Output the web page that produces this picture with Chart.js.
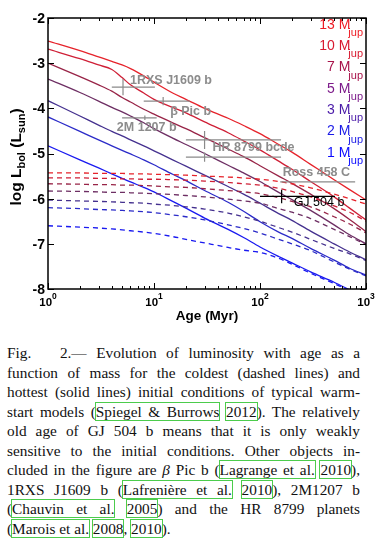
<!DOCTYPE html>
<html>
<head>
<meta charset="utf-8">
<script src="https://cdn.jsdelivr.net/npm/chart.js@4.4.0/dist/chart.umd.min.js"></script>
<style>
  html, body { margin: 0; padding: 0; background: #fff; width: 385px; height: 546px; overflow: hidden; }
  #wrap { position: absolute; left: 0; top: 0; width: 385px; height: 330px; }
  #cap { position: absolute; left: 7px; top: 343px; width: 353px; font-family: "Liberation Serif", serif;
         font-size: 15.3px; line-height: 19.5px; color: #111; }
  #cap div { text-align: justify; text-align-last: justify; height: 19.5px; white-space: nowrap; }
  #cap div.last { text-align-last: left; }
  .l { outline: 1px solid #4ccc4c; }
</style>
</head>
<body>
<div id="wrap"><canvas id="c" width="385" height="330"></canvas></div>
<div id="cap">
  <div>Fig.&nbsp;&nbsp; 2.— Evolution of luminosity with age as a</div>
  <div>function of mass for the coldest (dashed lines) and</div>
  <div>hottest (solid lines) initial conditions of typical warm-</div>
  <div>start models (<span class="l">Spiegel &amp; Burrows</span> <span class="l">2012</span>). The relatively</div>
  <div>old age of GJ 504 b means that it is only weakly</div>
  <div>sensitive to the initial conditions. Other objects in-</div>
  <div>cluded in the figure are <i>β</i> Pic b (<span class="l">Lagrange et al.</span> <span class="l">2010</span>),</div>
  <div>1RXS J1609 b (<span class="l">Lafrenière et al.</span> <span class="l">2010</span>), 2M1207 b</div>
  <div>(<span class="l">Chauvin et al.</span> <span class="l">2005</span>) and the HR 8799 planets</div>
  <div class="last">(<span class="l">Marois et al.</span> <span class="l">2008</span>, <span class="l">2010</span>).</div>
</div>
<script>
// ages in Myr
const ages = [1, 2, 3, 4, 5, 6, 8, 10, 15, 20, 30, 50, 70, 100, 150, 200, 300, 500, 700, 1000];
const masses = ['13', '10', '7', '5', '3', '2', '1'];

// hottest initial conditions (solid), log Lbol/Lsun
const hot13 = [-2.51, -2.72, -2.86, -2.96, -3.04, -3.12, -3.28, -3.42, -3.66, -3.80, -4.00, -4.22, -4.38, -4.56, -4.80, -4.97, -5.24, -5.58, -5.80, -6.03];
const hot10 = [-2.69, -2.90, -3.04, -3.14, -3.32, -3.48, -3.66, -3.80, -3.98, -4.10, -4.30, -4.54, -4.72, -4.92, -5.17, -5.35, -5.62, -5.96, -6.21, -6.47];
const hot7  = [-3.00, -3.30, -3.48, -3.62, -3.76, -3.86, -4.02, -4.13, -4.32, -4.45, -4.65, -4.90, -5.07, -5.27, -5.50, -5.66, -5.90, -6.22, -6.46, -6.73];
const hot5  = [-3.35, -3.65, -3.84, -3.98, -4.08, -4.17, -4.32, -4.45, -4.66, -4.80, -5.00, -5.26, -5.43, -5.62, -5.86, -6.02, -6.26, -6.58, -6.80, -7.00];
const hot3  = [-3.83, -4.17, -4.37, -4.51, -4.61, -4.70, -4.83, -4.94, -5.14, -5.28, -5.48, -5.73, -5.90, -6.10, -6.33, -6.48, -6.72, -7.00, -7.18, -7.35];
const hot2  = [-4.19, -4.51, -4.70, -4.83, -4.93, -5.01, -5.14, -5.25, -5.46, -5.60, -5.82, -6.08, -6.28, -6.51, -6.74, -6.88, -7.10, -7.36, -7.54, -7.69];
const hot1  = [-4.83, -5.14, -5.32, -5.45, -5.55, -5.63, -5.75, -5.85, -6.06, -6.21, -6.43, -6.68, -6.86, -7.07, -7.28, -7.42, -7.62, -7.85, -8.02, -8.20];

// coldest initial conditions (dashed)
const cold13 = [-5.43, -5.43, -5.44, -5.44, -5.44, -5.45, -5.45, -5.46, -5.47, -5.48, -5.50, -5.52, -5.54, -5.57, -5.62, -5.67, -5.76, -5.90, -6.00, -6.12];
const cold10 = [-5.54, -5.54, -5.55, -5.55, -5.56, -5.56, -5.57, -5.57, -5.58, -5.59, -5.61, -5.64, -5.67, -5.70, -5.77, -5.84, -5.96, -6.16, -6.30, -6.50];
const cold7  = [-5.67, -5.68, -5.69, -5.69, -5.70, -5.70, -5.71, -5.72, -5.74, -5.75, -5.78, -5.82, -5.85, -5.89, -5.98, -6.06, -6.18, -6.40, -6.56, -6.76];
const cold5  = [-5.83, -5.84, -5.85, -5.86, -5.86, -5.87, -5.88, -5.89, -5.91, -5.93, -5.96, -6.01, -6.05, -6.10, -6.22, -6.30, -6.44, -6.68, -6.84, -7.02];
const cold3  = [-6.03, -6.05, -6.06, -6.07, -6.08, -6.09, -6.10, -6.12, -6.15, -6.18, -6.23, -6.32, -6.40, -6.50, -6.64, -6.74, -6.90, -7.10, -7.22, -7.37];
const cold2  = [-6.20, -6.22, -6.24, -6.25, -6.26, -6.27, -6.29, -6.31, -6.36, -6.40, -6.47, -6.58, -6.66, -6.76, -6.90, -7.00, -7.15, -7.40, -7.56, -7.71];
const cold1  = [-6.60, -6.63, -6.65, -6.67, -6.69, -6.71, -6.74, -6.77, -6.84, -6.90, -6.98, -7.08, -7.14, -7.19, -7.32, -7.45, -7.65, -7.88, -8.04, -8.22];

const hot = [hot13, hot10, hot7, hot5, hot3, hot2, hot1];
const cold = [cold13, cold10, cold7, cold5, cold3, cold2, cold1];

// known objects
const objAge   = [5.1, 12.2, 8.2, 30, 30, 350, 160];
const objAgeLo = [4.0, 8.0, 5.0, 20, 20, 155, 100];
const objAgeHi = [10.2, 21.8, 10.6, 158, 158, 790, 510];
const objL     = [-3.53, -3.84, -4.21, -4.70, -5.08, -5.63, -5.95];
const objLErr  = [0.18, 0.09, 0.05, 0.20, 0.10, 0, 0.15];

const labelText = ['1RXS J1609 b', 'β Pic b', '2M 1207 b', 'HR 8799 bcde', 'Ross 458 C', 'GJ 504 b'];
const labelObj  = [0, 1, 2, 3, 5, 6];

const yTicks = [-2, -3, -4, -5, -6, -7, -8];
const xTicks = [1, 10, 100, 1000];

// styles
const lineCol  = ['#e6232b', '#cf1f36', '#982447', '#6d2e63', '#45318f', '#2b2bc8', '#1a1af0'];
const labelCol = ['#ee1c25', '#d8192f', '#a8124a', '#7d1b8a', '#4a1aa8', '#1a1ae6', '#0b0bff'];
const labelDx = [7, 7, -28, 8, -35, 12];
const labelDy = [-7, 10, 10, 8, -9, 6];

const datasets = [];
masses.forEach((m, i) => {
  datasets.push({
    label: m + ' hot',
    data: ages.map((a, k) => ({ x: a, y: hot[i][k] })),
    borderColor: lineCol[i], borderWidth: 1.3, pointRadius: 0, cubicInterpolationMode: 'monotone'
  });
  datasets.push({
    label: m + ' cold',
    data: ages.map((a, k) => ({ x: a, y: cold[i][k] })),
    borderColor: lineCol[i], borderWidth: 1.3, borderDash: [5, 4], pointRadius: 0, cubicInterpolationMode: 'monotone'
  });
});

const deco = {
  id: 'deco',
  afterDatasetsDraw(chart) {
    const { ctx, chartArea: a, scales: { x, y } } = chart;
    ctx.save();
    ctx.lineWidth = 1.2;
    objAge.forEach((t, i) => {
      ctx.strokeStyle = i === 6 ? '#000' : '#8a8a8a';
      const py = y.getPixelForValue(objL[i]);
      ctx.beginPath();
      ctx.moveTo(x.getPixelForValue(objAgeLo[i]), py);
      ctx.lineTo(x.getPixelForValue(objAgeHi[i]), py);
      if (objLErr[i] > 0) {
        const px = x.getPixelForValue(t);
        ctx.moveTo(px, y.getPixelForValue(objL[i] + objLErr[i]));
        ctx.lineTo(px, y.getPixelForValue(objL[i] - objLErr[i]));
      }
      ctx.stroke();
    });
    ctx.textBaseline = 'middle';
    ctx.textAlign = 'left';
    labelText.forEach((s, j) => {
      const o = labelObj[j];
      ctx.fillStyle = o === 6 ? '#000' : '#8c8c8c';
      ctx.font = (o === 6 ? '' : 'bold ') + '12.5px "Liberation Sans", Arial, sans-serif';
      ctx.fillText(s, x.getPixelForValue(objAge[o]) + labelDx[j], y.getPixelForValue(objL[o]) + labelDy[j]);
    });
    ctx.restore();
  },
  afterDraw(chart) {
    const { ctx, chartArea: a, scales: { x, y } } = chart;
    ctx.save();
    ctx.strokeStyle = '#000';
    ctx.lineWidth = 1.5;
    ctx.strokeRect(a.left, a.top, a.right - a.left, a.bottom - a.top);
    // ticks
    ctx.lineWidth = 1;
    ctx.beginPath();
    for (let d = 1; d < 1000; d *= 10) {
      for (let k = 1; k <= 10; k++) {
        const px = Math.round(x.getPixelForValue(d * k)) + 0.5;
        const len = (k === 1 || k === 10) ? 6 : 3;
        ctx.moveTo(px, a.bottom); ctx.lineTo(px, a.bottom - len);
        ctx.moveTo(px, a.top); ctx.lineTo(px, a.top + len);
      }
    }
    yTicks.forEach(v => {
      const py = Math.round(y.getPixelForValue(v)) + 0.5;
      ctx.moveTo(a.left, py); ctx.lineTo(a.left + 6, py);
      ctx.moveTo(a.right, py); ctx.lineTo(a.right - 6, py);
    });
    ctx.stroke();
    // tick labels
    ctx.fillStyle = '#000';
    ctx.font = 'bold 14px "Liberation Sans", Arial, sans-serif';
    ctx.textAlign = 'right';
    ctx.textBaseline = 'middle';
    yTicks.forEach(v => ctx.fillText('-' + Math.abs(v), a.left - 3, y.getPixelForValue(v) + 1));
    xTicks.forEach(v => {
      const e = String(Math.round(Math.log10(v)));
      ctx.font = 'bold 11.5px "Liberation Sans", Arial, sans-serif';
      const w1 = ctx.measureText('10').width;
      ctx.font = 'bold 8.5px "Liberation Sans", Arial, sans-serif';
      const w2 = ctx.measureText(e).width;
      const x0 = x.getPixelForValue(v) - (w1 + w2) / 2;
      ctx.textAlign = 'left';
      ctx.font = 'bold 11.5px "Liberation Sans", Arial, sans-serif';
      ctx.fillText('10', x0, a.bottom + 14);
      ctx.font = 'bold 8.5px "Liberation Sans", Arial, sans-serif';
      ctx.fillText(e, x0 + w1, a.bottom + 8);
    });
    // axis titles
    ctx.textAlign = 'center';
    ctx.font = 'bold 13.5px "Liberation Sans", Arial, sans-serif';
    ctx.fillText('Age (Myr)', (a.left + a.right) / 2, a.bottom + 27);
    const parts = [['log L', 0], ['bol', 1], [' (L', 0], ['sun', 1], [')', 0]];
    const fMain = 'bold 15.5px "Liberation Sans", Arial, sans-serif';
    const fSub = 'bold 11px "Liberation Sans", Arial, sans-serif';
    let tot = 0;
    parts.forEach(p => { ctx.font = p[1] ? fSub : fMain; tot += ctx.measureText(p[0]).width; });
    ctx.translate(17, 157);
    ctx.rotate(-Math.PI / 2);
    ctx.textAlign = 'left';
    let cx = -tot / 2;
    parts.forEach(p => {
      ctx.font = p[1] ? fSub : fMain;
      ctx.fillText(p[0], cx, p[1] ? 5 : 0);
      cx += ctx.measureText(p[0]).width;
    });
    ctx.setTransform(1, 0, 0, 1, 0, 0);
    // mass labels
    masses.forEach((m, i) => {
      const yy = 25 + 21.3 * i;
      ctx.fillStyle = labelCol[i];
      ctx.font = '11px "Liberation Sans", Arial, sans-serif';
      const ws = ctx.measureText('jup').width;
      ctx.textAlign = 'left';
      ctx.fillText('jup', a.right - 3 - ws, yy + 8);
      ctx.textAlign = 'right';
      ctx.font = '14px "Liberation Sans", Arial, sans-serif';
      ctx.fillText(m + ' M', a.right - 3 - ws + 2, yy);
    });
    ctx.restore();
  }
};

new Chart(document.getElementById('c'), {
  type: 'line',
  data: { datasets },
  options: {
    responsive: false,
    animation: false,
    parsing: true,
    layout: { padding: { left: 48, right: 19, top: 18, bottom: 41 } },
    plugins: { legend: { display: false }, tooltip: { enabled: false } },
    scales: {
      x: { type: 'logarithmic', min: 1, max: 1000, display: false },
      y: { type: 'linear', min: -8, max: -2, display: false }
    }
  },
  plugins: [deco]
});
</script>
</body>
</html>
